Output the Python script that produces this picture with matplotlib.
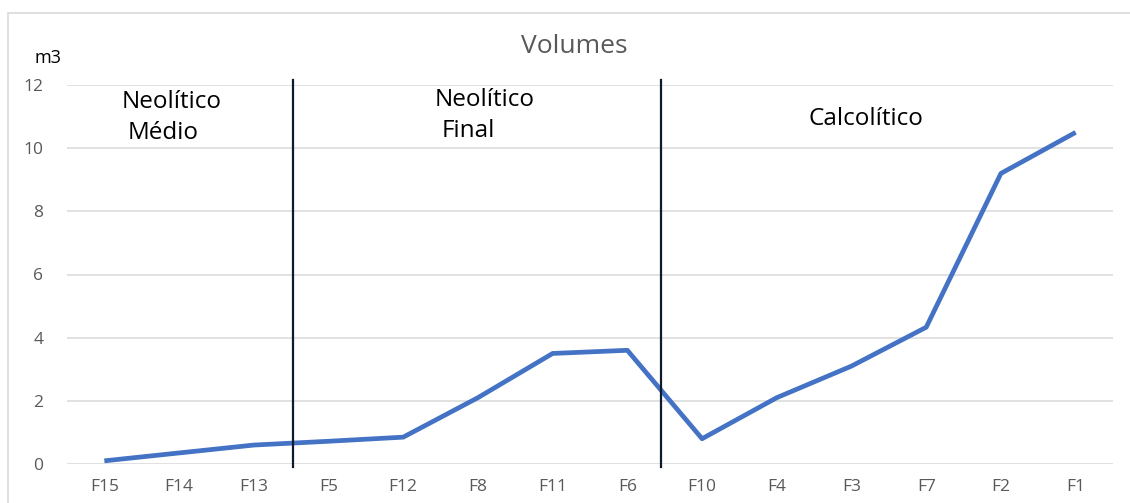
import matplotlib.pyplot as plt
from matplotlib.patches import Rectangle

plt.rcParams['font.family'] = ['Open Sans', 'DejaVu Sans']

fossas = ['F15', 'F14', 'F13', 'F5', 'F12', 'F8', 'F11', 'F6', 'F10', 'F4', 'F3', 'F7', 'F2', 'F1']
volumes = [0.1, 0.35, 0.6, 0.72, 0.85, 2.1, 3.5, 3.6, 0.8, 2.1, 3.1, 4.33, 9.2, 10.5]
yticks = [0, 2, 4, 6, 8, 10, 12]
# period boundaries on the category axis
limites = [2.52, 7.45]

fig = plt.figure(figsize=(11.3, 5.03), dpi=100)
fig.patches.append(Rectangle((8 / 1130, -0.1), 1.2, 1 - 13 / 503 + 0.1, transform=fig.transFigure,
                             fill=False, edgecolor='#d9d9d9', linewidth=1.2))
ax = fig.add_axes([67 / 1130, 1 - 464 / 503, (1113 - 67) / 1130, (464 - 85) / 503])

x = list(range(len(fossas)))
ax.plot(x, volumes, color='#4472c4', linewidth=3.4, solid_capstyle='butt', zorder=3)

for xl in limites:
    ax.plot([xl, xl], [-0.1, 12.16], color='#0d1b2a', linewidth=1.6, clip_on=False, zorder=4)

ax.set_xlim(-0.5, len(fossas) - 0.5)
ax.set_ylim(0, 12)
ax.set_xticks(x)
ax.set_xticklabels(fossas)
ax.set_yticks(yticks)
ax.set_yticklabels([str(v) for v in yticks])
ax.grid(axis='y', color='#d9d9d9', linewidth=1.1)
ax.set_axisbelow(True)
for s in ax.spines.values():
    s.set_visible(False)
ax.tick_params(axis='both', length=0, colors='#595959', labelsize=12.5)
ax.tick_params(axis='x', pad=11)
ax.tick_params(axis='y', pad=17)

ax.text(0.235, 11.46, 'Neolítico', fontsize=17.5, va='center', ha='left', color='black')
ax.text(0.315, 10.47, 'Médio', fontsize=17.5, va='center', ha='left', color='black')
ax.text(4.42, 11.52, 'Neolítico', fontsize=17.5, va='center', ha='left', color='black')
ax.text(4.51, 10.54, 'Final', fontsize=17.5, va='center', ha='left', color='black')
ax.text(9.43, 10.92, 'Calcolítico', fontsize=17.5, va='center', ha='left', color='black')

fig.text(574 / 1130, 1 - 46 / 503, 'Volumes', fontsize=19, color='#595959', ha='center', va='center')
fig.text(48 / 1130, 1 - 58 / 503, 'm3', fontsize=13, color='black', ha='center', va='center')

plt.savefig('out.png', dpi=100)
